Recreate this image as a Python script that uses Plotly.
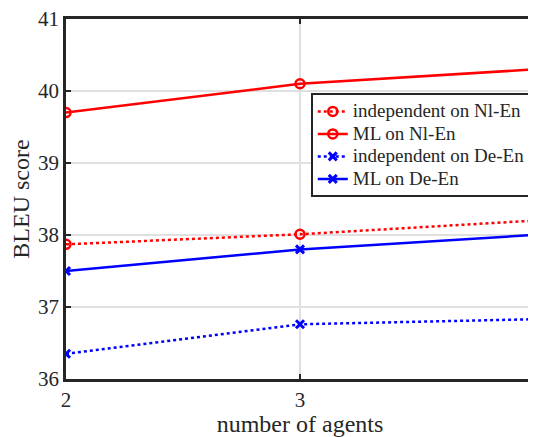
import plotly.graph_objects as go

agents = [2, 3, 4]
indep_nl = [37.87, 38.01, 38.2]
ml_nl = [39.7, 40.1, 40.3]
indep_de = [36.35, 36.76, 36.83]
ml_de = [37.5, 37.8, 38.0]
names = ["independent on Nl-En", "ML on Nl-En", "independent on De-En", "ML on De-En"]

FONT = "Liberation Serif, Times New Roman, Times, serif"
RED = "#ff0000"
BLUE = "#0000ff"
INK = "#262626"


def lbl(s):
    return '<span style="font-size:19px">' + s + '</span>'


fig = go.Figure()
fig.add_trace(go.Scatter(x=agents, y=indep_nl, name=lbl(names[0]), mode="lines+markers",
                         line=dict(color=RED, width=2.5, dash="dot"),
                         marker=dict(symbol="circle-open", size=9, color=RED, line=dict(width=2.5))))
fig.add_trace(go.Scatter(x=agents, y=ml_nl, name=lbl(names[1]), mode="lines+markers",
                         line=dict(color=RED, width=2.5),
                         marker=dict(symbol="circle-open", size=9, color=RED, line=dict(width=2.5))))
fig.add_trace(go.Scatter(x=agents, y=indep_de, name=lbl(names[2]), mode="lines+markers",
                         line=dict(color=BLUE, width=2.5, dash="dot"),
                         marker=dict(symbol="x-thin-open", size=8, color=BLUE, line=dict(width=3, color=BLUE))))
fig.add_trace(go.Scatter(x=agents, y=ml_de, name=lbl(names[3]), mode="lines+markers",
                         line=dict(color=BLUE, width=2.5),
                         marker=dict(symbol="x-thin-open", size=8, color=BLUE, line=dict(width=3, color=BLUE))))

axis_common = dict(showline=True, linecolor=INK, linewidth=2.5, mirror="ticks",
                   ticks="inside", ticklen=5, tickwidth=2, tickcolor=INK,
                   showgrid=True, gridcolor="#e0e0e0", gridwidth=2, zeroline=False,
                   automargin=False, ticklabeloverflow="allow",
                   tickfont=dict(family=FONT, size=21, color=INK))

# page body has an 8px margin: the figure ends at the window's right/bottom edges
fig.update_layout(
    width=528, height=429,
    margin=dict(l=58, r=2, t=11, b=58),
    paper_bgcolor="white", plot_bgcolor="white",
    font=dict(family=FONT, color=INK),
    xaxis=dict(range=[2, 4], tickvals=[2, 3, 4],
               title=dict(text="number of agents", font=dict(family=FONT, size=24, color=INK), standoff=6),
               **axis_common),
    yaxis=dict(range=[36, 41], tickvals=[36, 37, 38, 39, 40, 41],
               title=dict(text="BLEU score", font=dict(family=FONT, size=24, color=INK), standoff=8),
               **axis_common),
    legend=dict(x=0.523, y=0.794, xanchor="left", yanchor="top",
                bordercolor=INK, borderwidth=2, bgcolor="white",
                font=dict(family=FONT, size=15, color=INK),
                tracegroupgap=0, itemwidth=30),
    showlegend=True,
)

fig.write_html("out.html")
